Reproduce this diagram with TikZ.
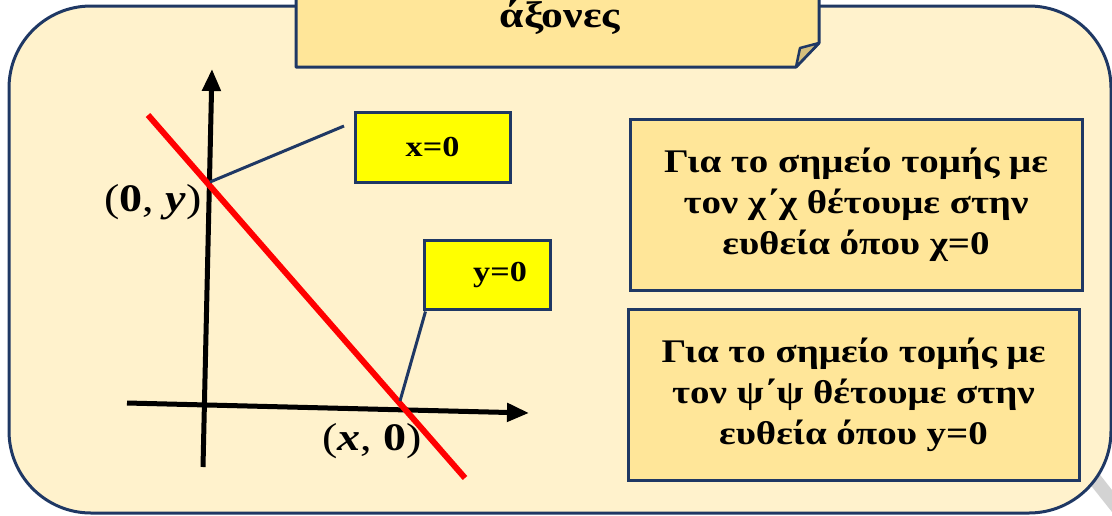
\documentclass[tikz,border=0pt]{standalone}
\usepackage{fontspec}
\setmainfont{Liberation Serif}[FakeStretch=1.18]
\usetikzlibrary{arrows.meta}
\definecolor{navy}{HTML}{1F3864}
\definecolor{outerfill}{HTML}{FFF2CC}
\definecolor{boxfill}{HTML}{FFE699}
\definecolor{flapfill}{HTML}{D5BF7D}
\definecolor{stripe}{HTML}{D3D3D3}
\definecolor{hiyellow}{HTML}{FFFF00}
\begin{document}
\begin{tikzpicture}[x=1pt,y=-1pt,
  txt/.style={font=\fontsize{29}{40}\selectfont\bfseries, align=center, text=black},
  infobox/.style={draw=navy, line width=3pt, fill=boxfill, inner sep=0pt, txt, font=\fontsize{33}{41}\selectfont\bfseries},
  eqbox/.style={draw=navy, line width=3pt, fill=hiyellow, inner sep=0pt, txt},
  axis/.style={line width=5pt, black, -{Triangle[width=18pt,length=22pt]}},
  redline/.style={line width=6pt, red},
  callout/.style={line width=3pt, navy},
  coordlbl/.style={font=\fontsize{39}{44}\selectfont, text=black}]
\useasboundingbox (0,0) rectangle (1112,515);
\clip (0,0) rectangle (1112,515);
% shadow stripe
\fill[stripe] (1090,462) -- (1112,490) -- (1112,512) -- (1085,478) -- cycle;
% outer rounded panel
\draw[navy, line width=3pt, fill=outerfill, rounded corners=82pt] (9,6) rectangle (1111,513);
% axes
\coordinate (yb) at (203,467);
\coordinate (yt) at (212,69);
\coordinate (xl) at (127,403);
\coordinate (xr) at (529,413);
\draw[axis] (yb) -- (yt);
\draw[axis] (xl) -- (xr);
% red line
\coordinate (r1) at (148,115);
\coordinate (r2) at (465,478);
\draw[redline] (r1) -- (r2);
% intersections
\coordinate (yint) at (210,182);
\coordinate (xint) at (400,401);
\coordinate (c1end) at (344,126);
% equation boxes
\node[eqbox, minimum width=155pt, minimum height=70pt] (xbox) at (432.5,147) {x=0};
\node[eqbox, minimum width=126pt, minimum height=69pt] (ybox) at (487,274.5) {\hspace*{26pt}y=0};
\draw[callout] (yint) -- (c1end);
\draw[callout] (xint) -- ([xshift=3pt,yshift=-1pt]ybox.south west);
% coordinate labels
\node[coordlbl] (lab0y) at (153,202) {(\textbf{0}, \textbf{\textit{y}})};
\node[coordlbl] (labx0) at (372,441) {(\textbf{\textit{x}}, \textbf{0})};
% info boxes
\node[infobox, minimum width=452pt, minimum height=171pt] (info1) at (856,204.5)
  {Για το σημείο τομής με\\τον χ΄χ θέτουμε στην\\ευθεία όπου χ=0};
\node[infobox, minimum width=451pt, minimum height=171pt] (info2) at (853.5,394.5)
  {Για το σημείο τομής με\\τον ψ΄ψ θέτουμε στην\\ευθεία όπου y=0};
% title box with folded corner
\draw[navy, line width=3pt, fill=boxfill, line join=round]
  (296,-10) -- (819,-10) -- (819,43) -- (796,67) -- (296,67) -- cycle;
\draw[navy, line width=2.5pt, fill=flapfill, line join=round]
  (796,67) -- (800,48) -- (819,43) -- cycle;
\node[txt, font=\fontsize{37}{42}\selectfont\bfseries, anchor=base] (title) at (560,27) {άξονες};
\end{tikzpicture}
\end{document}
